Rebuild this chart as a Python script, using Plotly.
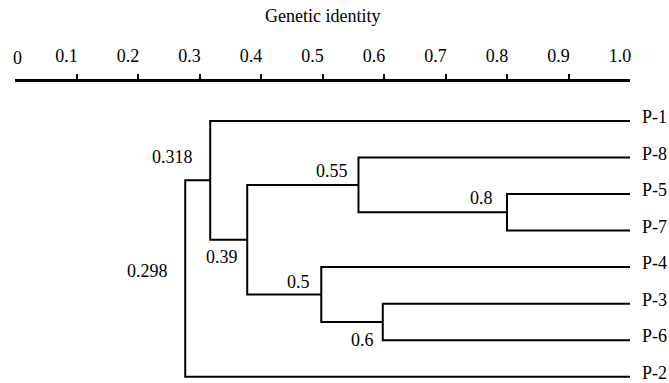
import plotly.graph_objects as go

# ---- data ----
leaves = ["P-1", "P-8", "P-5", "P-7", "P-4", "P-3", "P-6", "P-2"]
leaf_identity = 1.0

merge_names = ["A", "B", "C", "D", "E", "F", "G"]
merge_left = ["P-5", "P-3", "P-8", "P-4", "C", "P-1", "F"]
merge_right = ["P-7", "P-6", "A", "B", "D", "E", "P-2"]
merge_identity = [0.800, 0.598, 0.5585, 0.498, 0.3776, 0.3174, 0.2768]
merge_label = ["0.8", "0.6", "0.55", "0.5", "0.39", "0.318", "0.298"]

tick_values = [0, 0.1, 0.2, 0.3, 0.4, 0.5, 0.6, 0.7, 0.8, 0.9, 1.0]
tick_labels = ["0", "0.1", "0.2", "0.3", "0.4", "0.5", "0.6", "0.7", "0.8", "0.9", "1.0"]
mark_values = [0.1, 0.2, 0.3, 0.4, 0.5, 0.6, 0.7, 0.8, 0.9]
axis_title = "Genetic identity"

# label placement (style): pixel offsets relative to node
label_offsets = {
    "0.8": (-12, 14), "0.6": (-7, -18), "0.55": (-8, 14), "0.5": (-9, 13),
    "0.39": (-7, -17), "0.318": (-15, 23), "0.298": (-15, 8),
}

FONT = "Liberation Serif"

# ---- build tree geometry ----
pos = {}
for i, name in enumerate(leaves):
    pos[name] = (leaf_identity, float(i))

xs, ys = [], []
for name, l, r, h in zip(merge_names, merge_left, merge_right, merge_identity):
    lx, ly = pos[l]
    rx, ry = pos[r]
    xs += [lx, h, h, rx, None]
    ys += [ly, ly, ry, ry, None]
    pos[name] = (h, (ly + ry) / 2.0)

fig = go.Figure()
fig.add_trace(go.Scatter(x=xs, y=ys, mode="lines",
                         line=dict(color="black", width=2),
                         hoverinfo="skip", showlegend=False))
fig.add_trace(go.Scatter(x=[], y=[], xaxis="x2", yaxis="y", showlegend=False))

annotations = []
for name, lab in zip(merge_names, merge_label):
    x, y = pos[name]
    dx, dy = label_offsets[lab]
    annotations.append(dict(x=x, y=y, xref="x", yref="y", text=lab, showarrow=False,
                            xanchor="right", yanchor="middle", xshift=dx, yshift=dy,
                            font=dict(family=FONT, size=18, color="black")))
for i, name in enumerate(leaves):
    annotations.append(dict(x=1, y=i, xref="paper", yref="y", text=name, showarrow=False,
                            xanchor="left", yanchor="middle", xshift=10, yshift=4,
                            font=dict(family=FONT, size=18, color="black")))
# zero label (sits right at the axis start)
annotations.append(dict(x=0, y=1, xref="x", yref="paper", text=tick_labels[0], showarrow=False,
                        xanchor="center", yanchor="bottom", xshift=2, yshift=12,
                        font=dict(family=FONT, size=18, color="black")))
# axis title
annotations.append(dict(x=0.5, y=1, xref="x", yref="paper", text=axis_title, showarrow=False,
                        xanchor="center", yanchor="middle", yshift=66,
                        font=dict(family=FONT, size=18, color="black")))

W, H = 669, 383
x0_px, x1_px, axis_y = 15, 630.5, 82
n = len(leaves)
px_per = 36.53
top = -(121 - 82) / px_per
bottom = (n - 1) + (383 - 376.7) / px_per

fig.update_layout(
    width=W, height=H,
    margin=dict(l=x0_px, r=W - x1_px, t=axis_y, b=0, autoexpand=False),
    paper_bgcolor="white", plot_bgcolor="white",
    font=dict(family=FONT, size=18, color="black"),
    xaxis=dict(side="top", range=[0, 1], showgrid=False, zeroline=False, automargin=False,
               showline=True, linecolor="black", linewidth=2.5,
               tickmode="array", tickvals=tick_values[1:], ticktext=tick_labels[1:],
               ticks="outside", ticklen=10, tickcolor="rgba(0,0,0,0)",
               ticklabelshift=-10,
               tickfont=dict(family=FONT, size=18, color="black")),
    xaxis2=dict(side="top", overlaying="x", anchor="y", range=[0, 1], showgrid=False,
                zeroline=False, showline=False, showticklabels=False, automargin=False,
                tickmode="array", tickvals=mark_values,
                ticks="outside", ticklen=7, tickwidth=2, tickcolor="black"),
    yaxis=dict(range=[bottom, top], visible=False, automargin=False),
    annotations=annotations,
)

fig.write_html("out.html", config={"displayModeBar": False},
               post_script="document.body.style.margin='0';document.body.style.overflow='hidden';")
